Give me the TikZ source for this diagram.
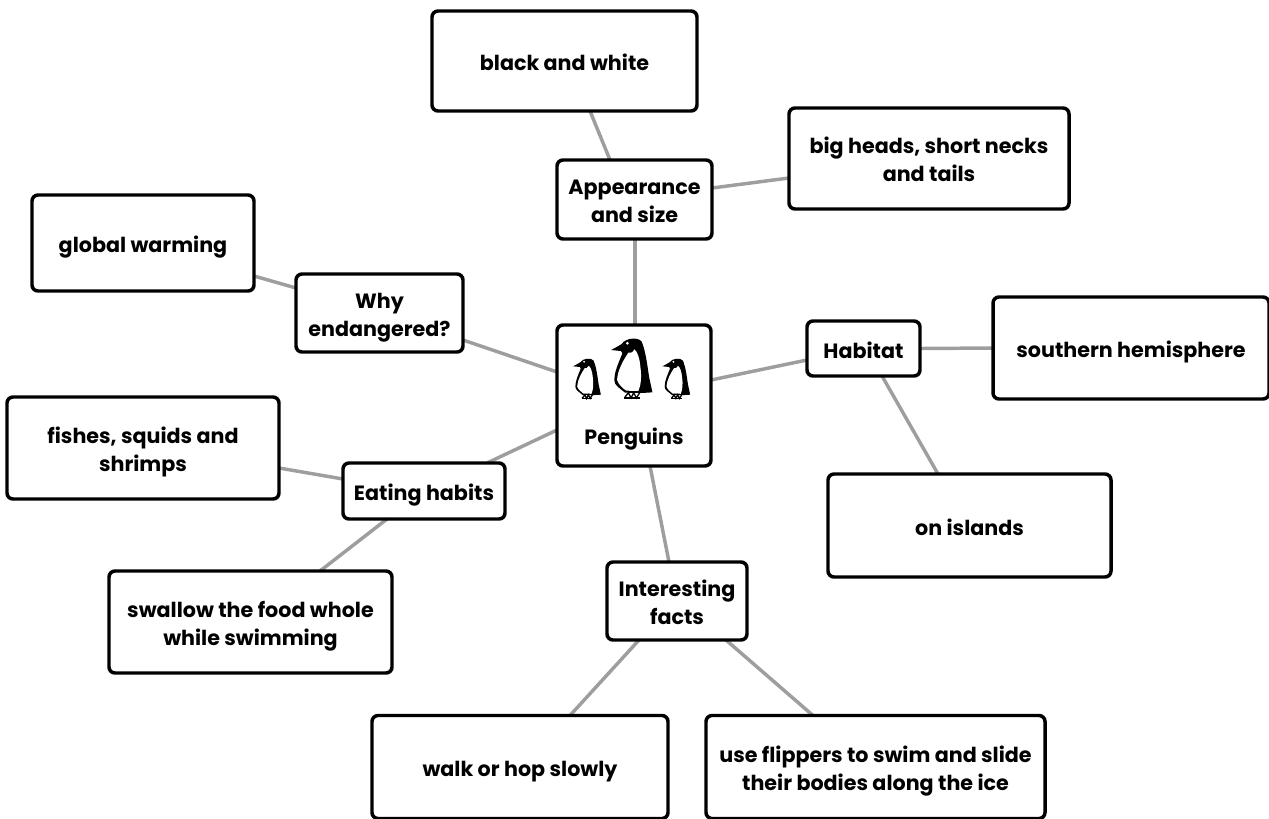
\documentclass[tikz,border=0pt]{standalone}
\usepackage{fontspec}
\setmainfont{Poppins}
\usetikzlibrary{backgrounds}
\def\px{0.75pt}
\tikzset{
  box/.style={draw=black,line width=2.6pt,rounded corners=4.5pt,align=center,inner sep=0pt,outer sep=0pt,
     font=\fontsize{15.5}{21}\selectfont\bfseries,text=black},
  oneline/.style={box,text height=14.6pt,text depth=0pt},
  twolines/.style={box,text height=35.2pt,text depth=0pt},
  link/.style={draw=black!38,line width=2.6pt},
  label/.style={inner sep=0pt,anchor=base,font=\fontsize{15.5}{21}\selectfont\bfseries,text=black},
  penguin/.pic={
    \fill[black] (-62,-60) .. controls (-50,-66) and (-40,-72) .. (-30,-78)
       .. controls (-20,-96) and (20,-100) .. (30,-85)
       .. controls (42,-55) and (46,-20) .. (52,20)
       .. controls (56,40) and (60,55) .. (62,67)
       -- (30,69) -- (-20,68)
       .. controls (-35,55) and (-54,45) .. (-52,30)
       .. controls (-52,5) and (-40,-20) .. (-28,-50)
       -- (-32,-57) -- cycle;
    \fill[white] (-10,-52) .. controls (-25,-30) and (-42,0) .. (-44,30)
       .. controls (-40,42) and (-28,55) .. (-16,62)
       -- (20,63) .. controls (28,45) and (30,20) .. (26,-10)
       .. controls (24,-35) and (16,-58) .. (8,-62)
       .. controls (2,-50) and (-4,-52) .. (-10,-52) -- cycle;
    \fill[white] (-13,-80) circle (4.5);
    \draw[black,line width=1pt] (-22,84) -- (-10,68) -- (-2,84) -- (6,68) -- (14,84) -- (24,68);
    \draw[black,line width=1pt] (-22,84) -- (24,84);
  }
}
\begin{document}
\begin{tikzpicture}[x=0.75pt,y=-0.75pt]
\useasboundingbox (0,0) rectangle (1269,818);
\node[box,minimum width=115.5pt,minimum height=105.75pt] (center) at (634,395.5) {};
\node[label] (penguins) at (634,444) {Penguins};
\node[twolines,minimum width=116.25pt,minimum height=59.25pt] (appearance) at (634.5,199.5) {Appearance\\and size};
\node[oneline,minimum width=198.75pt,minimum height=75pt] (black) at (564.5,61) {black and white};
\node[twolines,minimum width=210pt,minimum height=75.75pt] (big) at (929,158.5) {big heads, short necks\\and tails};
\node[twolines,minimum width=125.25pt,minimum height=58.5pt] (why) at (379.5,313) {Why\\endangered?};
\node[oneline,minimum width=166.5pt,minimum height=72pt] (global) at (143,243) {global warming};
\node[oneline,minimum width=84.75pt,minimum height=41.25pt] (habitat) at (863.5,348.5) {Habitat};
\node[oneline,minimum width=207pt,minimum height=76.5pt] (southern) at (1131,348) {southern hemisphere};
\node[oneline,minimum width=212.25pt,minimum height=77.25pt] (islands) at (969.5,525.5) {on islands};
\node[oneline,minimum width=121.5pt,minimum height=42pt] (eating) at (424,491) {Eating habits};
\node[twolines,minimum width=204pt,minimum height=76.5pt] (fishes) at (143,448) {fishes, squids and\\shrimps};
\node[twolines,minimum width=212.25pt,minimum height=76.5pt] (swallow) at (250.5,622) {swallow the food whole\\while swimming};
\node[twolines,minimum width=105pt,minimum height=58.5pt] (facts) at (677,601) {Interesting\\facts};
\node[oneline,minimum width=222pt,minimum height=77.25pt] (walk) at (520,767) {walk or hop slowly};
\node[twolines,minimum width=254.25pt,minimum height=77.25pt] (flippers) at (875.5,767) {use flippers to swim and slide\\their bodies along the ice};
\pic[scale=0.3333] at (631.7,370) {penguin};
\pic[scale=0.2233] at (587,379.7) {penguin};
\pic[scale=0.2233] at (676.3,379.7) {penguin};
\begin{scope}[on background layer]
\draw[link] ([xshift=25.5*\px]black.south) -- ([xshift=-24.5*\px]appearance.north);
\draw[link] ([yshift=-19.5*\px]big.west) -- ([yshift=11.5*\px]appearance.east);
\draw[link] ([xshift=0.5*\px]appearance.south) -- ([xshift=1*\px]center.north);
\draw[link] ([yshift=-33*\px]global.east) -- ([yshift=25*\px]why.west);
\draw[link] ([yshift=-27*\px]why.east) -- ([yshift=23.5*\px]center.west);
\draw[link] ([yshift=15.5*\px]center.east) -- ([yshift=-11.5*\px]habitat.west);
\draw[link] (habitat.east) -- (southern.west);
\draw[link] ([xshift=18.5*\px]habitat.south) -- ([xshift=-31.5*\px]islands.north);
\draw[link] ([yshift=-34.5*\px]center.west) -- ([xshift=63*\px]eating.north);
\draw[link] ([yshift=-20*\px]fishes.east) -- ([yshift=12*\px]eating.west);
\draw[link] ([xshift=-37*\px]eating.south) -- ([xshift=69.5*\px]swallow.north);
\draw[link] ([xshift=16*\px]center.south) -- ([xshift=-8*\px]facts.north);
\draw[link] ([xshift=-38*\px]facts.south) -- ([xshift=50*\px]walk.north);
\draw[link] ([xshift=49*\px]facts.south) -- ([xshift=-62.5*\px]flippers.north);
\end{scope}
\end{tikzpicture}
\end{document}
